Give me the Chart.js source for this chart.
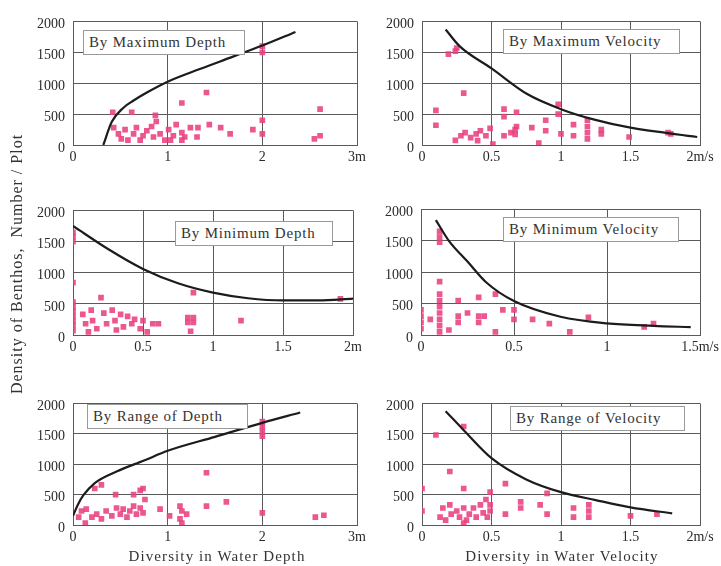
<!DOCTYPE html>
<html>
<head>
<meta charset="utf-8">
<script src="https://cdn.jsdelivr.net/npm/chart.js@4.4.1/dist/chart.umd.min.js"></script>
<style>
    body {
        margin: 0;
        background: #fff;
    }

    #page {
        position: relative;
        width: 721px;
        height: 566px;
        overflow: hidden;
        font-family: "Liberation Serif", serif;
        color: #333;
        filter: blur(0.35px);
    }

    #page canvas {
        position: absolute;
    }

    .tag {
        position: absolute;
        box-sizing: border-box;
        height: 25px;
        line-height: 23px;
        padding-left: 5px;
        background: #fff;
        border: 1px solid #999;
        font-size: 15px;
        letter-spacing: 0.8px;
        white-space: nowrap;
    }

    .xtitle {
        position: absolute;
        top: 548px;
        width: 280px;
        text-align: center;
        font-size: 15px;
        letter-spacing: 1.1px;
    }

    #ytitle {
        position: absolute;
        left: -133px;
        top: 255px;
        width: 300px;
        text-align: center;
        font-size: 16px;
        letter-spacing: 1px;
        white-space: pre;
        transform: rotate(-90deg);
    }
</style>
</head>
<body>

<div id="page">
    <div id="ytitle">Density of Benthos,  Number / Plot</div>
    <div class="xtitle" style="left:77px;">Diversity in Water Depth</div>
    <div class="xtitle" style="left:422px;">Diversity in Water Velocity</div>
</div>

<script>
// ==========================
// DATA
// ==========================

const yLabels = ["0", "500", "1000", "1500", "2000"];

const depthLabels3 = ["0", "1", "2", "3m"];
const velLabels2 = ["0", "0.5", "1", "1.5", "2m/s"];
const depthLabels2 = ["0", "0.5", "1", "1.5", "2m"];
const velLabels15 = ["0", "0.5", "1", "1.5m/s"];

// By Maximum Depth
const maxDepthX = [2.0, 2.0, 1.41, 1.15, 0.42, 0.62, 0.87, 2.61, 2.0, 1.90, 2.0, 2.55, 2.61, 1.66, 1.44, 1.56,
    0.43, 0.48, 0.55, 0.58, 0.64, 0.67, 0.71, 0.78, 0.83, 0.88, 0.92, 0.97, 1.01, 1.06, 1.09, 1.15, 1.18, 1.24,
    1.31, 1.32, 0.51, 0.74, 0.85, 1.03, 1.15];
const maxDepthY = [1600, 1500, 850, 680, 530, 530, 480, 580, 400, 250, 180, 100, 150, 180, 330, 280,
    280, 180, 250, 80, 180, 280, 80, 230, 300, 380, 180, 80, 250, 150, 330, 200, 130, 280,
    130, 280, 100, 150, 130, 80, 80];
const maxDepthCurveX = [0.32, 0.41, 0.53, 0.64, 0.78, 1.0, 1.34, 1.69, 2.0, 2.35];
const maxDepthCurveY = [0, 375, 600, 720, 850, 1025, 1230, 1430, 1610, 1830];

// By Maximum Velocity
const maxVelX = [0.1, 0.1, 0.19, 0.25, 0.24, 0.3,
    0.24, 0.28, 0.31, 0.35, 0.39, 0.42, 0.46, 0.49, 0.51, 0.40,
    0.59, 0.59, 0.68, 0.59, 0.64, 0.67, 0.68, 0.67,
    0.79, 0.84, 0.89, 0.89, 0.98, 0.98, 1.0, 1.09, 1.09,
    1.19, 1.19, 1.19, 1.19, 1.29, 1.29, 1.49, 1.77, 1.79];
const maxVelY = [560, 320, 1470, 1570, 1520, 840,
    75, 150, 200, 120, 180, 230, 150, 270, 15, 70,
    580, 460, 530, 150, 200, 250, 300, 170,
    280, 30, 400, 230, 660, 500, 180, 330, 150,
    400, 300, 200, 100, 250, 180, 130, 200, 180];
const maxVelCurveX = [0.17, 0.27, 0.5, 0.76, 1.0, 1.24, 1.5, 1.98];
const maxVelCurveY = [1870, 1600, 1240, 820, 580, 410, 280, 130];

// By Minimum Depth
const minDepthX = [0, 0, 0, 0, 0, 0, 0, 0, 0, 0, 0, 0.2,
    0.07, 0.09, 0.13, 0.14, 0.17, 0.22, 0.24, 0.28, 0.30, 0.34, 0.36, 0.39, 0.42, 0.44, 0.48, 0.50,
    0.53, 0.57, 0.61, 0.31, 0.11,
    0.86, 0.82, 0.86, 0.82, 0.86, 0.84, 1.2, 1.91];
const minDepthY = [1650, 1580, 1500, 840, 530, 450, 380, 300, 220, 150, 70, 600,
    330, 180, 400, 230, 100, 350, 180, 400, 230, 330, 130, 300, 180, 250, 100, 230,
    50, 180, 180, 80, 50,
    680, 280, 280, 200, 200, 60, 230, 580];
const minDepthCurveX = [0, 0.25, 0.5, 0.75, 1.0, 1.25, 1.5, 1.75, 2.0];
const minDepthCurveY = [1750, 1380, 1060, 830, 680, 590, 555, 555, 585];

// By Minimum Velocity
const minVelX = [0.1, 0.1, 0.1, 0.1, 0.1, 0.1, 0.1, 0.1, 0.1, 0.1, 0.1,
    0, 0, 0, 0, 0.05, 0.15, 0.2, 0.2, 0.2, 0.25, 0.31, 0.31, 0.31, 0.34, 0.40, 0.40,
    0.44, 0.5, 0.5, 0.6, 0.69, 0.8, 0.9, 1.2, 1.25];
const minVelY = [1650, 1560, 1480, 850, 650, 550, 450, 350, 250, 150, 50,
    400, 300, 200, 100, 250, 80, 550, 300, 200, 350, 600, 300, 200, 300, 650, 50,
    400, 400, 250, 250, 180, 50, 280, 130, 180];
const minVelCurveX = [0.08, 0.15, 0.25, 0.35, 0.5, 0.75, 1.0, 1.25, 1.45];
const minVelCurveY = [1830, 1500, 1170, 840, 540, 290, 185, 145, 125];

// By Range of Depth
const rangeDepthX = [2.0, 2.0, 2.0, 2.0, 1.41, 1.41, 1.62, 2.0, 2.56, 2.65, 0.3, 0.23, 0.71, 0.74, 0.64,
    0.45, 0.76,
    0.06, 0.09, 0.14, 0.20, 0.25, 0.30, 0.35, 0.41, 0.46, 0.50, 0.53, 0.57, 0.60, 0.64, 0.67, 0.71,
    0.74, 0.13, 0.92, 1.02, 1.13, 1.15, 1.13, 1.15, 1.2];
const rangeDepthY = [1700, 1620, 1540, 1460, 860, 310, 380, 200, 130, 160, 660, 600, 570, 600, 500,
    500, 420,
    130, 230, 260, 130, 180, 100, 230, 150, 280, 180, 260, 130, 230, 310, 180, 280,
    200, 30, 260, 150, 310, 230, 100, 30, 180];
const rangeDepthCurveX = [0, 0.05, 0.11, 0.23, 0.46, 0.75, 1.0, 1.5, 2.0, 2.4];
const rangeDepthCurveY = [150, 330, 490, 690, 880, 1060, 1220, 1450, 1680, 1850];

// By Range of Velocity
const rangeVelX = [0.1, 0.3, 0.2, 0.0, 0.0, 0.3, 0.6, 0.49, 0.46,
    0.15, 0.17, 0.2, 0.21, 0.25, 0.27, 0.30, 0.32, 0.34, 0.37, 0.39, 0.42, 0.44, 0.47, 0.49, 0.49,
    0.13, 0.3, 0.6, 0.71, 0.71, 0.85, 0.9, 0.9, 1.09, 1.09, 1.2, 1.2, 1.2, 1.5, 1.69];
const rangeVelY = [1480, 1620, 880, 600, 230, 600, 680, 540, 420,
    280, 80, 330, 180, 230, 130, 280, 80, 180, 280, 130, 330, 200, 130, 230, 330,
    130, 30, 180, 380, 280, 330, 520, 180, 280, 130, 330, 230, 130, 150, 180];
const rangeVelCurveX = [0.17, 0.3, 0.5, 0.75, 1.0, 1.25, 1.5, 1.8];
const rangeVelCurveY = [1870, 1560, 1100, 750, 540, 410, 290, 190];

// ==========================
// PANELS
// ==========================

const page = document.getElementById("page");

function toPoints(xs, ys) {
    return xs.map((x, i) => ({ x: x, y: ys[i] }));
}

function drawPanel(box, xMax, xStep, xLabels, xs, ys, cxs, cys, title, tag) {

    const padL = 55;
    const padT = 8;
    const padR = 30;
    const padB = 26;

    const canvas = document.createElement("canvas");
    canvas.width = box.r - box.l + padL + padR;
    canvas.height = box.b - box.t + padT + padB;
    canvas.style.left = (box.l - padL) + "px";
    canvas.style.top = (box.t - padT) + "px";
    page.appendChild(canvas);

    const tickFont = {
        family: "'Liberation Serif', serif",
        size: 14
    };

    new Chart(canvas, {
        type: "scatter",

        data: {
            datasets: [{
                data: toPoints(cxs, cys),
                showLine: true,
                borderColor: "#1c1c1c",
                borderWidth: 2.2,
                pointRadius: 0,
                cubicInterpolationMode: "monotone",
                order: 0
            }, {
                data: toPoints(xs, ys),
                pointStyle: "rect",
                pointRadius: 4,
                backgroundColor: "rgba(232, 64, 126, 0.88)",
                borderWidth: 0,
                order: 1
            }]
        },

        options: {
            responsive: false,
            animation: false,
            layout: {
                padding: { top: padT, right: padR, left: 0, bottom: 0 }
            },
            plugins: {
                legend: { display: false },
                tooltip: { enabled: false }
            },
            scales: {
                x: {
                    type: "linear",
                    min: 0,
                    max: xMax,
                    afterFit: (s) => { s.height = padB; },
                    ticks: {
                        stepSize: xStep,
                        autoSkip: false,
                        maxRotation: 0,
                        padding: 4,
                        color: "#2a2a2a",
                        font: tickFont,
                        callback: (v, i) => xLabels[i]
                    },
                    grid: { color: "#5a5a5a", lineWidth: 1, drawTicks: false },
                    border: { color: "#5a5a5a", width: 1 }
                },
                y: {
                    min: 0,
                    max: 2000,
                    afterFit: (s) => { s.width = padL; },
                    ticks: {
                        stepSize: 500,
                        padding: 8,
                        labelOffset: 3,
                        color: "#2a2a2a",
                        font: tickFont,
                        callback: (v, i) => yLabels[i]
                    },
                    grid: { color: "#5a5a5a", lineWidth: 1, drawTicks: false },
                    border: { color: "#5a5a5a", width: 1 }
                }
            }
        }
    });

    const label = document.createElement("div");
    label.className = "tag";
    label.textContent = title;
    label.style.left = tag.l + "px";
    label.style.top = tag.t + "px";
    label.style.width = tag.w + "px";
    page.appendChild(label);
}

window.addEventListener("load", () => {

    drawPanel({ l: 73, t: 13, r: 357, b: 145 }, 3, 1, depthLabels3,
        maxDepthX, maxDepthY, maxDepthCurveX, maxDepthCurveY,
        "By Maximum Depth", { l: 83, t: 30, w: 162 });

    drawPanel({ l: 422, t: 13, r: 700, b: 145 }, 2, 0.5, velLabels2,
        maxVelX, maxVelY, maxVelCurveX, maxVelCurveY,
        "By Maximum Velocity", { l: 503, t: 29, w: 177 });

    drawPanel({ l: 73, t: 202, r: 353, b: 335 }, 2, 0.5, depthLabels2,
        minDepthX, minDepthY, minDepthCurveX, minDepthCurveY,
        "By Minimum Depth", { l: 175, t: 221, w: 158 });

    drawPanel({ l: 421, t: 201, r: 700, b: 335 }, 1.5, 0.5, velLabels15,
        minVelX, minVelY, minVelCurveX, minVelCurveY,
        "By Minimum Velocity", { l: 503, t: 217, w: 176 });

    drawPanel({ l: 73, t: 395, r: 357, b: 525 }, 3, 1, depthLabels3,
        rangeDepthX, rangeDepthY, rangeDepthCurveX, rangeDepthCurveY,
        "By Range of Depth", { l: 87, t: 404, w: 161 });

    drawPanel({ l: 422, t: 395, r: 700, b: 525 }, 2, 0.5, velLabels2,
        rangeVelX, rangeVelY, rangeVelCurveX, rangeVelCurveY,
        "By Range of Velocity", { l: 510, t: 406, w: 175 });

});
</script>

</body>
</html>
